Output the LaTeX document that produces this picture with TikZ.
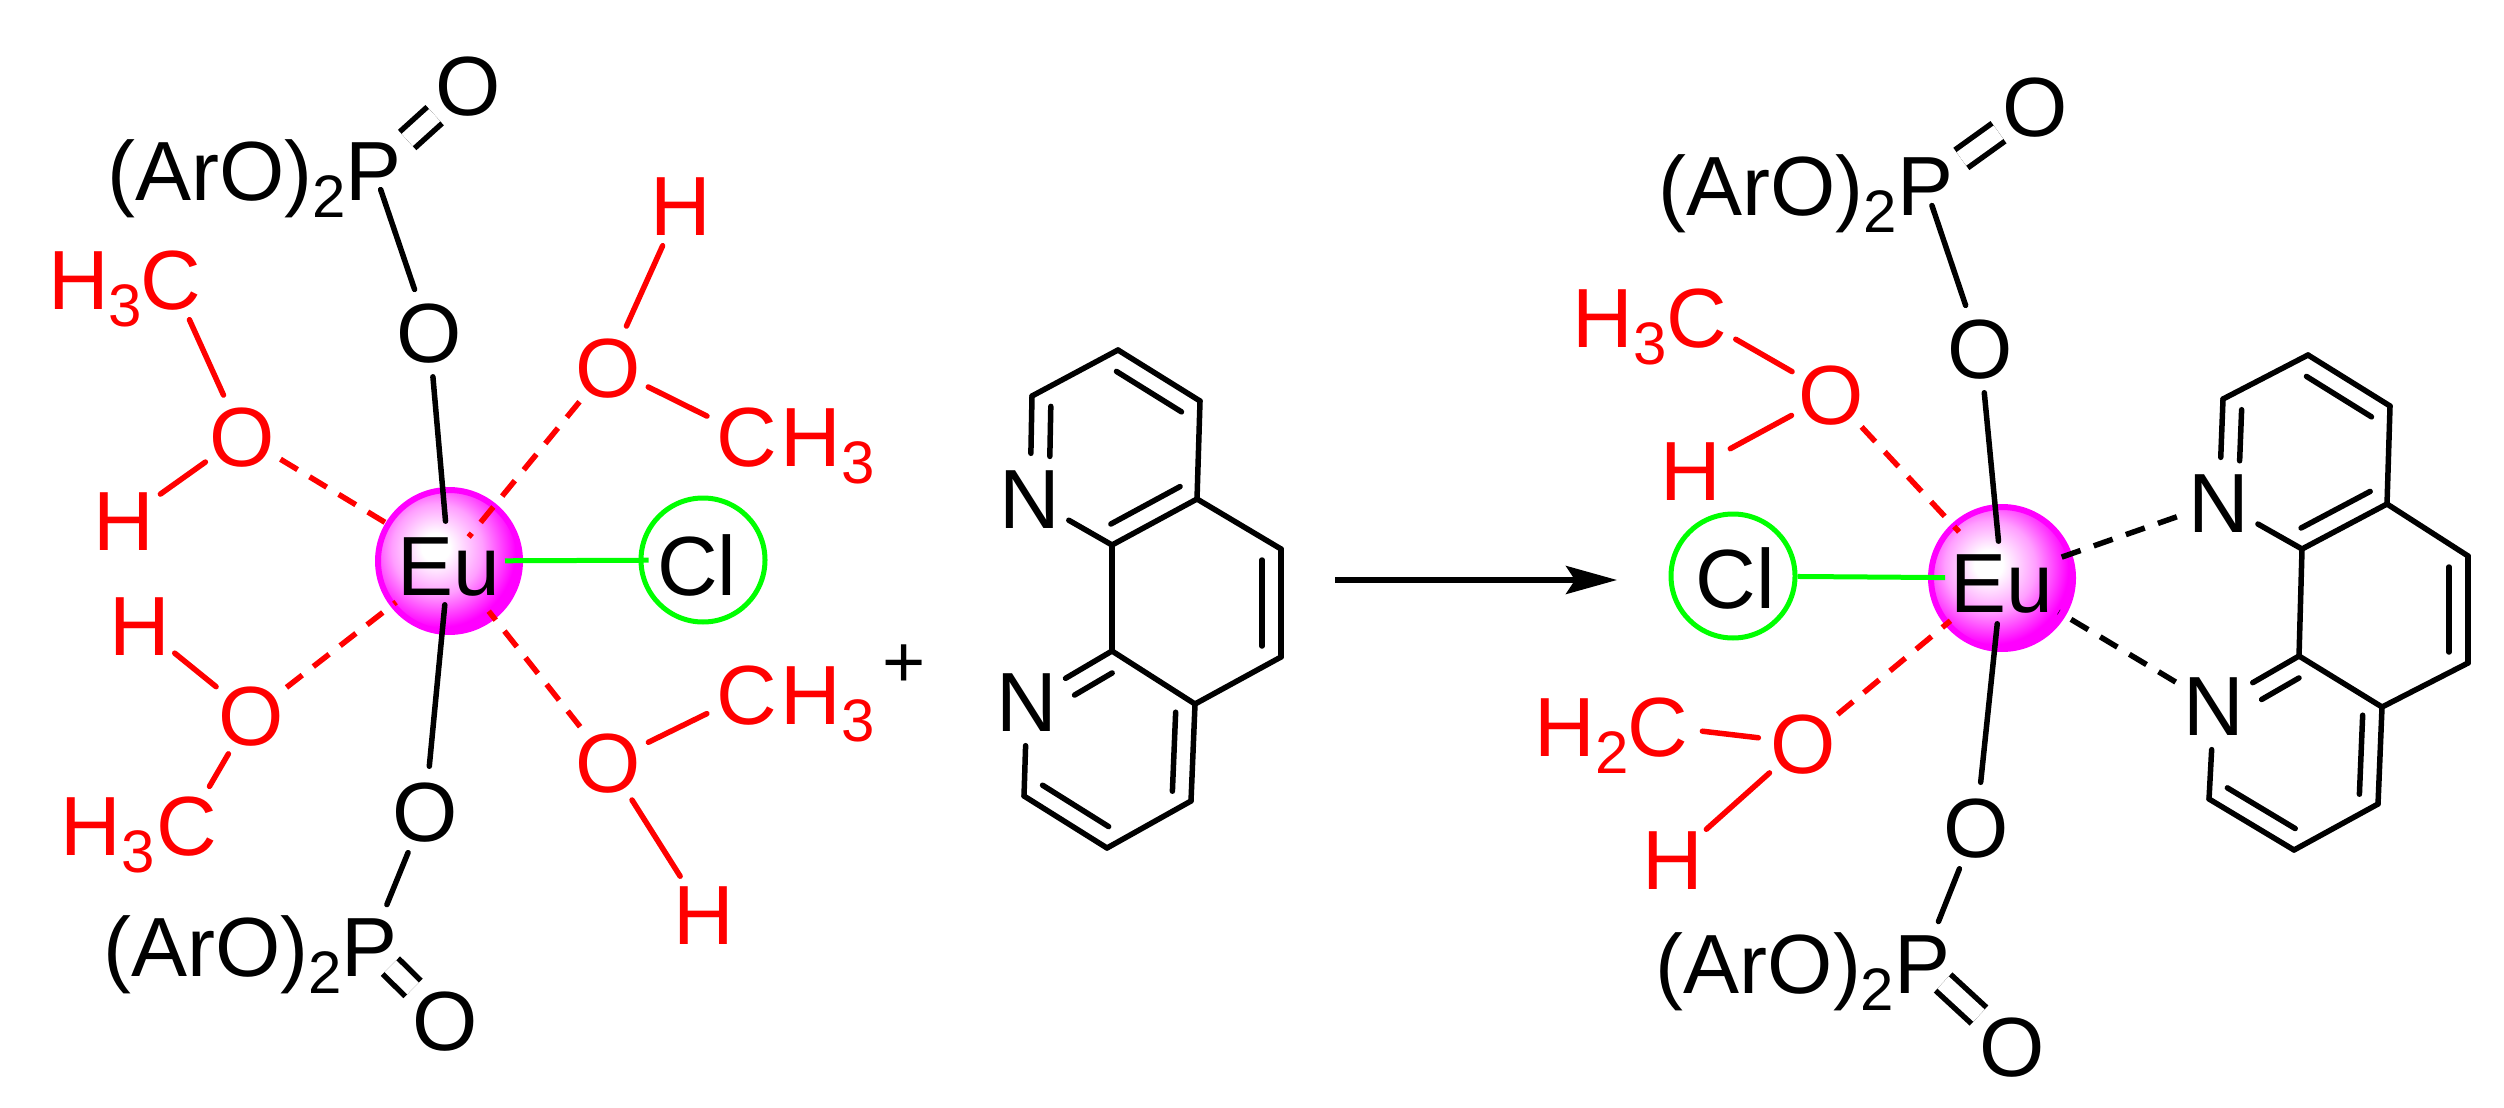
\documentclass[tikz,border=0pt]{standalone}
\usepackage{fontspec}
\setmainfont{Liberation Sans}
\usetikzlibrary{arrows.meta,calc}

\definecolor{eumagenta}{RGB}{255,0,255}

\newcommand{\atomsub}[1]{\raisebox{-1.7mm}{\fontsize{6mm}{6mm}\selectfont #1}}
% inner stroke of a ring double bond, on the left of (#1) to (#2)
\newcommand{\innerbond}[4]{\draw[bond,shorten <=#3,shorten >=#4] ($(#1)!1.9mm!90:(#2)$) -- ($(#2)!1.9mm!-90:(#1)$);}

\pgfdeclareradialshading{eushade}{\pgfpoint{-5bp}{5bp}}{
    rgb(0bp)=(1,1,1);
    rgb(5bp)=(1,1,1);
    rgb(16bp)=(1,0.62,1);
    rgb(27bp)=(1,0,1);
    rgb(100bp)=(1,0,1)}

\tikzset{
    atomtext/.style={font=\fontsize{8.4mm}{9mm}\selectfont,inner sep=0pt,text height=6.01mm,text depth=0pt},
    atom/.style={atomtext,circle,minimum size=8.8mm},
    group/.style={atomtext},
    redatom/.style={atom,text=red},
    redgroup/.style={group,text=red},
    ball/.style={atomtext,circle,minimum size=14.2mm,text height=6.8mm,draw=eumagenta,line width=0.6mm,shading=eushade},
    clring/.style={circle,draw=green,line width=0.5mm,minimum size=12.4mm,inner sep=0pt},
    bond/.style={line width=0.55mm,line cap=round},
    redbond/.style={bond,red},
    dblbond/.style={line width=0.55mm,double,double distance=1.65mm},
    coordbond/.style={line width=0.55mm,dash pattern=on 2mm off 1.4mm},
    redcoord/.style={coordbond,red},
    greenbond/.style={line width=0.5mm,green},
}

\begin{document}
\begin{tikzpicture}[x=0.1mm,y=-0.1mm]
    \useasboundingbox (0,0) rectangle (2504,1108);

    % left complex
    \node[ball] (eu) at (449,561) {Eu};
    \node[atom] (o1) at (429,332) {O};
    \node[atom] (p1) at (374,170) {P};
    \node[group,anchor=east] at (347,170) {(ArO)\atomsub{2}};
    \node[atom] (o1d) at (468,85) {O};
    \node[atom] (o2) at (425,811) {O};
    \node[atom] (p2) at (370,946) {P};
    \node[group,anchor=east] at (343,946) {(ArO)\atomsub{2}};
    \node[atom] (o2d) at (445,1020) {O};
    \node[redatom] (o3) at (608,367) {O};
    \node[redatom] (h3) at (681,205) {H};
    \node[redatom] (c3) at (747,436) {C};
    \node[redgroup,anchor=west] at (780,436) {H\atomsub{3}};
    \node[redatom] (o4) at (242,436) {O};
    \node[redatom] (c4) at (171,279) {C};
    \node[redgroup,anchor=east] at (143,279) {H\atomsub{3}};
    \node[redatom] (h4) at (124,520) {H};
    \node[redatom] (o5) at (251,715) {O};
    \node[redatom] (h5) at (140,625) {H};
    \node[redatom] (c5) at (187,825) {C};
    \node[redgroup,anchor=west] at (60,825) {H\atomsub{3}};
    \node[redatom] (o6) at (608,762) {O};
    \node[redatom] (c6) at (747,694) {C};
    \node[redgroup,anchor=west] at (780,694) {H\atomsub{3}};
    \node[redatom] (h6) at (704,914) {H};
    \node[clring] (clb) at (703,560) {};
    \node[atomtext] (cl) at (697,565) {Cl};

    \draw[bond,shorten <=-2.4mm] (p1) -- (o1);
    \draw[bond,shorten >=4mm] (o1) -- (eu.center);
    \draw[bond,shorten >=4.4mm] (o2) -- (eu.center);
    \draw[bond] (o2) -- (p2);
    \draw[dblbond] (p1) -- (o1d);
    \draw[dblbond,shorten <=-1.6mm] (p2) -- (o2d);
    \draw[redbond] (h3) -- (o3);
    \draw[redbond] (o3) -- (c3);
    \draw[redbond] (c4) -- (o4);
    \draw[redbond] (o4) -- (h4);
    \draw[redbond] (h5) -- (o5);
    \draw[redbond] (o5) -- (c5);
    \draw[redbond] (o6) -- (c6);
    \draw[redbond] (o6) -- (h6);
    \draw[redcoord,shorten >=3.1mm] (o3) -- (eu.center);
    \draw[redcoord,shorten >=6.4mm] (o4) -- (eu.center);
    \draw[redcoord,shorten >=6.7mm] (o5) -- (eu.center);
    \draw[redcoord,shorten >=6.4mm] (o6) -- (eu.center);
    \draw[greenbond,shorten <=5.6mm,shorten >=-1mm] (eu.center) -- (clb);

    \node[font=\fontsize{7.4mm}{8mm}\selectfont,inner sep=0pt,anchor=base] (plus) at (904,687) {+};

    % free phenanthroline
    \coordinate (ma) at (1118,350);
    \coordinate (mb) at (1032,396);
    \coordinate (mc) at (1112,545);
    \coordinate (md) at (1197,499);
    \coordinate (me) at (1200,401);
    \coordinate (mf) at (1281,549);
    \coordinate (mg) at (1281,657);
    \coordinate (mh) at (1195,704);
    \coordinate (mi) at (1112,651);
    \coordinate (mj) at (1024,796);
    \coordinate (mk) at (1107,848);
    \coordinate (ml) at (1191,801);
    \node[atom] (mn1) at (1030,498) {N};
    \node[atom] (mn2) at (1027,701) {N};
    \foreach \p/\q in {ma/mb,mb/mn1,mn1/mc,mc/md,md/me,me/ma,md/mf,mf/mg,mg/mh,mh/mi,mi/mc,mi/mn2,mn2/mj,mj/mk,mk/ml,ml/mh}
        \draw[bond] (\p) -- (\q);
    \innerbond{me}{ma}{1mm}{1mm}
    \innerbond{mb}{mn1}{1mm}{4.2mm}
    \innerbond{mc}{md}{0.9mm}{0.9mm}
    \innerbond{mg}{mf}{1.1mm}{1.1mm}
    \innerbond{mi}{mn2}{1.1mm}{4.4mm}
    \innerbond{mj}{mk}{1mm}{1mm}
    \innerbond{ml}{mh}{0.9mm}{0.9mm}

    % reaction arrow
    \coordinate (arrowa) at (1335,580);
    \coordinate (arrowb) at (1617,580);
    \draw[line width=0.55mm,-{Stealth[length=5.1mm,width=2.8mm,inset=0.9mm]}] (arrowa) -- (arrowb);

    % right complex
    \node[ball] (eur) at (2002,578) {Eu};
    \node[atom] (ro1) at (1980,348) {O};
    \node[atom] (rp1) at (1925,185) {P};
    \node[group,anchor=east] at (1898,185) {(ArO)\atomsub{2}};
    \node[atom] (ro1d) at (2035,106) {O};
    \node[atom] (ro2) at (1976,827) {O};
    \node[atom] (rp2) at (1922,963) {P};
    \node[group,anchor=east] at (1895,963) {(ArO)\atomsub{2}};
    \node[atom] (ro2d) at (2012,1046) {O};
    \node[redatom] (ro3) at (1831,394) {O};
    \node[redatom] (rc3) at (1697,317) {C};
    \node[redgroup,anchor=west] at (1572,317) {H\atomsub{3}};
    \node[redatom] (rh3) at (1691,470) {H};
    \node[redatom] (ro4) at (1803,743) {O};
    \node[redatom] (rc4) at (1658,726) {C};
    \node[redgroup,anchor=west] at (1534,726) {H\atomsub{2}};
    \node[redatom] (rh4) at (1673,859) {H};
    \node[clring] (rclb) at (1733,576) {};
    \node[atomtext] (rcl) at (1735,578) {Cl};

    \draw[bond,shorten <=-2.3mm] (rp1) -- (ro1);
    \draw[bond,shorten >=3.7mm] (ro1) -- (eur.center);
    \draw[bond,shorten >=4.6mm] (ro2) -- (eur.center);
    \draw[bond] (ro2) -- (rp2);
    \draw[dblbond] (rp1) -- (ro1d);
    \draw[dblbond,shorten <=-1.6mm] (rp2) -- (ro2d);
    \draw[redbond] (rc3) -- (ro3);
    \draw[redbond] (ro3) -- (rh3);
    \draw[redbond] (rc4) -- (ro4);
    \draw[redbond] (ro4) -- (rh4);
    \draw[redcoord,shorten >=6.3mm] (ro3) -- (eur.center);
    \draw[redcoord,shorten >=6.7mm] (ro4) -- (eur.center);
    \draw[greenbond,shorten <=5.7mm] (eur.center) -- (rclb);

    % bound phenanthroline
    \coordinate (ra) at (2308,355);
    \coordinate (rb) at (2223,399);
    \coordinate (rc) at (2302,549);
    \coordinate (rd) at (2387,504);
    \coordinate (re) at (2390,406);
    \coordinate (rf) at (2468,556);
    \coordinate (rg) at (2468,663);
    \coordinate (rh) at (2382,707);
    \coordinate (ri) at (2299,656);
    \coordinate (rj) at (2209,799);
    \coordinate (rk) at (2294,850);
    \coordinate (rl) at (2378,804);
    \node[atom] (rn1) at (2219,502) {N};
    \node[atom] (rn2) at (2214,705) {N};
    \foreach \p/\q in {ra/rb,rb/rn1,rn1/rc,rc/rd,rd/re,re/ra,rd/rf,rf/rg,rg/rh,rh/ri,ri/rc,ri/rn2,rn2/rj,rj/rk,rk/rl,rl/rh}
        \draw[bond] (\p) -- (\q);
    \innerbond{re}{ra}{1mm}{1mm}
    \innerbond{rb}{rn1}{1mm}{4.2mm}
    \innerbond{rc}{rd}{0.9mm}{0.9mm}
    \innerbond{rg}{rf}{1.1mm}{1.1mm}
    \innerbond{ri}{rn2}{1.1mm}{4.4mm}
    \innerbond{rj}{rk}{1mm}{1mm}
    \innerbond{rl}{rh}{0.9mm}{0.9mm}
    \draw[coordbond,shorten >=5.7mm] (rn1) -- (eur.center);
    \draw[coordbond,shorten >=6.6mm] (rn2) -- (eur.center);
\end{tikzpicture}
\end{document}
